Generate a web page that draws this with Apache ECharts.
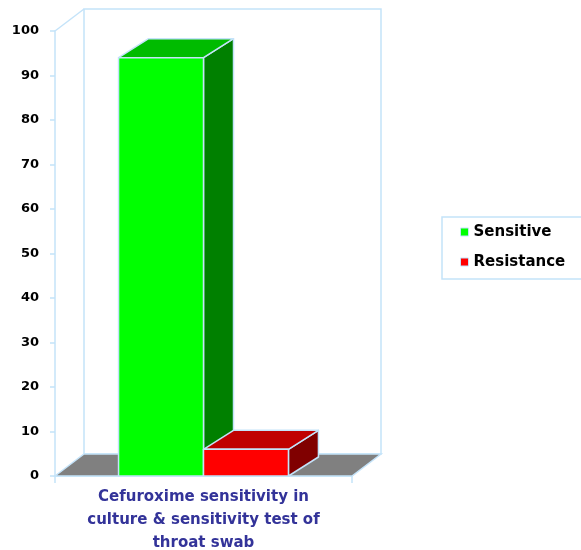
<!DOCTYPE html>
<html>
<head>
<meta charset="utf-8">
<script src="https://cdn.jsdelivr.net/npm/echarts@6/dist/echarts.min.js"></script>
<style>
html,body{margin:0;padding:0;background:#fff;}
#c{width:581px;height:550px;}
</style>
</head>
<body>
<div id="c"></div>
<script>
const categories = ['Cefuroxime sensitivity in\nculture & sensitivity test of\nthroat swab'];
const seriesNames = ['Sensitive', 'Resistance'];
const sensitive = [94];
const resistance = [6];
const yMin = 0, yMax = 100, yStep = 10;

const EDGE = '#c4e3f9';
const WALL_DX = 29, WALL_DY = -22;
const BAR_DX = 30, BAR_DY = -19;
const BAR_FRAC = 0.286;

const chart = echarts.init(document.getElementById('c'), null, {renderer: 'canvas'});

function wallRender(params, api) {
  const c0 = api.coord([0, yMin]);
  const c1 = api.coord([0, yMax]);
  const band = api.size([1, 0])[0];
  const L = c0[0] - band / 2, R = c0[0] + band / 2;
  const B = c0[1], T = c1[1];
  const ls = {stroke: EDGE, lineWidth: 1.5, fill: null};
  return {
    type: 'group',
    children: [
      {type: 'rect', shape: {x: L + WALL_DX, y: T + WALL_DY, width: R - L, height: B - T}, style: {fill: '#fff', stroke: EDGE, lineWidth: 1.5}},
      {type: 'line', shape: {x1: L, y1: T, x2: L + WALL_DX, y2: T + WALL_DY}, style: ls},
      {type: 'polygon', shape: {points: [[L, B], [L + WALL_DX, B + WALL_DY], [R + WALL_DX, B + WALL_DY], [R, B]]}, style: {fill: '#808080', stroke: EDGE, lineWidth: 1.5}}
    ]
  };
}

function barRender(offset, front, top, side) {
  return function (params, api) {
    const base = api.coord([api.value(0), yMin]);
    const tp = api.coord([api.value(0), api.value(1)]);
    const band = api.size([1, 0])[0];
    const w = band * BAR_FRAC;
    const x0 = base[0] + offset * w, x1 = x0 + w;
    const y0 = base[1], y1 = tp[1];
    const st = {stroke: EDGE, lineWidth: 1.5, lineJoin: 'round'};
    return {
      type: 'group',
      children: [
        {type: 'polygon', shape: {points: [[x1, y1], [x1 + BAR_DX, y1 + BAR_DY], [x1 + BAR_DX, y0 + BAR_DY], [x1, y0]]}, style: Object.assign({fill: side}, st)},
        {type: 'polygon', shape: {points: [[x0, y1], [x0 + BAR_DX, y1 + BAR_DY], [x1 + BAR_DX, y1 + BAR_DY], [x1, y1]]}, style: Object.assign({fill: top}, st)},
        {type: 'rect', shape: {x: x0, y: y1, width: w, height: y0 - y1}, style: Object.assign({fill: front}, st)}
      ]
    };
  };
}

const option = {
  backgroundColor: '#fff',
  animation: false,
  grid: {left: 55, top: 31, width: 297, height: 445, containLabel: false, outerBoundsMode: 'none'},
  xAxis: {
    type: 'category',
    data: categories,
    boundaryGap: true,
    axisLine: {show: true, lineStyle: {color: EDGE, width: 1.5}},
    axisTick: {show: true, length: 7, lineStyle: {color: EDGE, width: 1.5}},
    axisLabel: {
      margin: 10,
      color: '#333399',
      fontFamily: 'DejaVu Sans',
      fontWeight: 'bold',
      fontSize: 15,
      lineHeight: 23,
      align: 'center'
    },
    splitLine: {show: false}
  },
  yAxis: {
    type: 'value',
    min: yMin, max: yMax, interval: yStep,
    axisLine: {show: true, lineStyle: {color: EDGE, width: 1.5}},
    axisTick: {show: true, length: 5, lineStyle: {color: EDGE, width: 1.5}},
    axisLabel: {margin: 16, color: '#000', fontFamily: 'DejaVu Sans', fontWeight: 'bold', fontSize: 13},
    splitLine: {show: false}
  },
  legend: {
    orient: 'vertical',
    left: 442, top: 217,
    padding: [7, 40, 9, 18],
    itemWidth: 8, itemHeight: 8, itemGap: 14,
    icon: 'rect',
    borderColor: EDGE, borderWidth: 1.5,
    textStyle: {fontFamily: 'DejaVu Sans', fontWeight: 'bold', fontSize: 15, color: '#000', lineHeight: 16},
    data: [
      {name: seriesNames[0], itemStyle: {color: '#00ff00', borderColor: EDGE, borderWidth: 1}},
      {name: seriesNames[1], itemStyle: {color: '#ff0000', borderColor: EDGE, borderWidth: 1}}
    ]
  },
  series: [
    {type: 'custom', silent: true, renderItem: wallRender, data: [[0, 0]], encode: {x: 0, y: 1}, z: 1},
    {type: 'custom', name: seriesNames[0], itemStyle: {color: '#00ff00'}, renderItem: barRender(-1, '#00ff00', '#00bb00', '#008000'),
      data: sensitive.map((v, i) => [i, v]), encode: {x: 0, y: 1}, z: 3},
    {type: 'custom', name: seriesNames[1], itemStyle: {color: '#ff0000'}, renderItem: barRender(0, '#ff0000', '#c00000', '#800000'),
      data: resistance.map((v, i) => [i, v]), encode: {x: 0, y: 1}, z: 4}
  ]
};
chart.setOption(option);
</script>
</body>
</html>
